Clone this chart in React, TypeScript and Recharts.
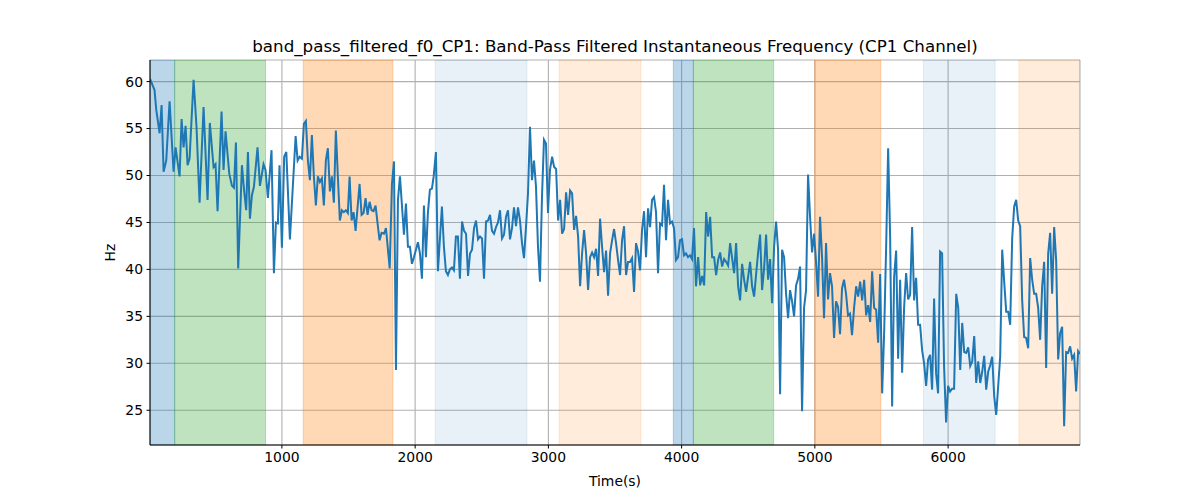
import React from 'react';
import {
  LineChart,
  Line,
  XAxis,
  YAxis,
  CartesianGrid,
  ReferenceArea,
} from 'recharts';

const timeS = [
  10, 44, 57, 82, 97, 112, 132, 157, 187, 202, 232, 247, 262, 277, 292, 307, 337, 359, 382, 412,
  442, 459, 487, 502, 517, 547, 562, 577, 605, 625, 640, 655, 672, 700, 717, 732, 745, 760, 775, 790,
  817, 835, 862, 877, 895, 922, 940, 955, 970, 982, 1000, 1017, 1033, 1060, 1103, 1118, 1133, 1150, 1165, 1180,
  1195, 1210, 1225, 1240, 1255, 1270, 1285, 1300, 1315, 1330, 1345, 1360, 1375, 1390, 1405, 1420, 1435, 1450, 1465, 1480,
  1495, 1508, 1523, 1538, 1553, 1583, 1598, 1613, 1628, 1643, 1658, 1673, 1688, 1703, 1718, 1733, 1748, 1766, 1781, 1809,
  1826, 1841, 1856, 1871, 1886, 1916, 1931, 1946, 1961, 1976, 1991, 2021, 2036, 2051, 2066, 2081, 2096, 2111, 2126, 2139,
  2156, 2171, 2201, 2216, 2231, 2246, 2261, 2276, 2291, 2306, 2321, 2336, 2352, 2367, 2382, 2397, 2412, 2427, 2442, 2457,
  2472, 2487, 2502, 2517, 2532, 2547, 2562, 2577, 2592, 2607, 2622, 2637, 2652, 2667, 2682, 2697, 2712, 2727, 2742, 2757,
  2772, 2787, 2802, 2817, 2832, 2847, 2862, 2877, 2892, 2907, 2922, 2937, 2952, 2967, 2982, 2997, 3012, 3028, 3043, 3058,
  3073, 3088, 3103, 3118, 3133, 3148, 3163, 3178, 3193, 3208, 3223, 3238, 3253, 3268, 3283, 3298, 3313, 3328, 3343, 3358,
  3373, 3388, 3403, 3418, 3433, 3448, 3463, 3478, 3493, 3508, 3523, 3538, 3553, 3568, 3583, 3598, 3613, 3628, 3643, 3658,
  3673, 3688, 3703, 3718, 3733, 3748, 3763, 3778, 3793, 3808, 3823, 3838, 3853, 3868, 3883, 3898, 3913, 3928, 3943, 3958,
  3973, 3988, 4003, 4018, 4033, 4048, 4063, 4078, 4093, 4108, 4124, 4139, 4154, 4169, 4184, 4199, 4214, 4229, 4244, 4259,
  4274, 4289, 4304, 4319, 4334, 4349, 4364, 4379, 4394, 4409, 4424, 4439, 4454, 4469, 4484, 4514, 4529, 4544, 4574, 4589,
  4604, 4619, 4634, 4649, 4664, 4679, 4694, 4709, 4724, 4739, 4754, 4769, 4784, 4799, 4814, 4829, 4844, 4859, 4874, 4889,
  4904, 4919, 4934, 4949, 4964, 4979, 4994, 5009, 5024, 5039, 5054, 5069, 5084, 5099, 5114, 5129, 5144, 5159, 5174, 5189,
  5204, 5219, 5234, 5249, 5264, 5279, 5295, 5310, 5325, 5340, 5355, 5370, 5385, 5400, 5415, 5430, 5445, 5460, 5475, 5490,
  5505, 5520, 5535, 5550, 5565, 5580, 5595, 5610, 5625, 5640, 5655, 5670, 5685, 5700, 5715, 5730, 5745, 5760, 5775, 5790,
  5805, 5820, 5835, 5850, 5865, 5880, 5895, 5910, 5925, 5940, 5955, 5970, 5985, 6000, 6015, 6030, 6045, 6061, 6076, 6091,
  6106, 6121, 6136, 6151, 6166, 6181, 6196, 6211, 6226, 6241, 6256, 6271, 6286, 6301, 6316, 6331, 6346, 6361, 6391, 6406,
  6421, 6436, 6451, 6466, 6481, 6496, 6511, 6526, 6541, 6556, 6571, 6586, 6601, 6616, 6631, 6646, 6661, 6676, 6691, 6706,
  6721, 6736, 6751, 6766, 6781, 6796, 6811, 6826, 6841, 6856, 6871, 6886, 6901, 6916, 6931, 6946, 6961, 6976, 6990,
];

const freqHz = [
  60.3, 59.1, 57.0, 54.5, 57.5, 50.4, 51.6, 57.9, 50.4, 53.0, 49.9, 56.0, 53.0, 55.3, 51.1, 51.8, 60.2, 55.2, 47.1, 57.3,
  47.4, 55.6, 50.9, 51.2, 46.2, 56.8, 50.6, 54.7, 50.2, 48.9, 48.7, 53.5, 40.1, 51.1, 48.3, 46.3, 52.5, 45.4, 47.9, 48.8,
  53.0, 48.9, 51.2, 50.6, 47.6, 52.7, 39.6, 45.0, 44.9, 51.1, 42.3, 52.0, 52.5, 43.2, 54.2, 51.6, 52.0, 51.8, 55.5, 55.8,
  51.6, 49.5, 54.3, 49.9, 46.8, 49.9, 49.3, 49.7, 46.8, 51.6, 52.9, 48.3, 49.9, 47.1, 54.8, 49.9, 45.2, 46.3, 46.1, 46.3,
  46.0, 49.9, 45.2, 46.1, 44.1, 49.1, 45.8, 46.0, 47.6, 45.8, 47.2, 46.3, 46.2, 46.8, 44.9, 43.1, 43.9, 43.8, 44.4, 40.1,
  49.1, 51.5, 29.3, 47.4, 49.9, 43.7, 47.0, 42.4, 42.4, 40.6, 41.3, 42.9, 41.7, 39.0, 46.8, 41.3, 46.1, 48.5, 48.6, 49.9,
  52.5, 39.8, 46.7, 42.4, 39.8, 39.4, 40.0, 40.2, 39.9, 43.5, 43.5, 39.0, 45.1, 44.1, 43.8, 39.3, 41.7, 42.1, 44.4, 45.2,
  43.2, 43.5, 43.3, 39.0, 45.1, 45.2, 45.8, 44.1, 43.8, 44.5, 45.0, 46.3, 43.3, 43.7, 45.6, 46.3, 43.2, 44.4, 46.6, 44.6,
  46.6, 45.2, 42.8, 41.2, 44.5, 48.1, 55.2, 49.5, 51.6, 48.8, 42.4, 38.7, 47.7, 53.8, 53.4, 46.0, 50.6, 52.0, 50.9, 50.7,
  45.2, 47.4, 43.8, 44.3, 48.2, 45.8, 48.4, 48.1, 44.2, 45.7, 43.5, 38.2, 41.7, 44.2, 41.7, 37.8, 41.3, 41.8, 41.3, 42.2,
  39.3, 45.4, 42.4, 39.7, 42.0, 37.2, 41.7, 43.1, 44.3, 42.8, 41.0, 39.4, 43.1, 44.6, 39.4, 40.8, 40.8, 41.2, 37.6, 42.8,
  41.9, 39.9, 44.2, 46.2, 41.3, 46.5, 44.5, 47.4, 47.7, 46.1, 39.6, 44.9, 44.7, 49.0, 43.1, 47.4, 44.9, 45.1, 44.4, 41.0,
  41.3, 43.1, 43.2, 41.5, 41.7, 41.3, 41.5, 41.1, 44.4, 38.2, 41.3, 38.3, 39.3, 38.3, 46.1, 43.5, 45.6, 41.3, 41.3, 39.4,
  41.0, 41.8, 40.3, 41.1, 40.8, 40.4, 42.8, 41.2, 39.6, 42.8, 38.2, 36.7, 40.6, 38.9, 37.6, 40.8, 38.2, 37.1, 41.8, 43.7,
  37.8, 40.1, 43.7, 38.9, 41.1, 36.4, 42.4, 45.1, 42.1, 26.7, 42.1, 41.3, 37.4, 34.8, 37.8, 36.6, 35.0, 38.3, 39.0, 40.3,
  24.9, 35.9, 37.8, 50.1, 45.6, 41.8, 43.8, 40.8, 37.1, 45.6, 41.3, 34.8, 42.8, 36.8, 39.6, 38.2, 32.7, 36.6, 36.0, 33.1,
  38.0, 38.9, 37.4, 35.1, 35.3, 33.0, 36.0, 38.2, 37.1, 38.7, 36.7, 38.9, 35.1, 36.2, 34.4, 39.8, 35.9, 35.7, 32.2, 39.5,
  26.8, 33.2, 42.4, 52.9, 43.5, 25.4, 39.2, 42.0, 30.5, 38.9, 29.0, 36.0, 39.6, 36.8, 37.3, 44.5, 36.7, 39.1, 34.1, 34.1,
  31.4, 30.0, 27.6, 30.4, 30.9, 27.2, 36.9, 28.9, 26.8, 41.9, 41.7, 29.6, 23.7, 27.6, 27.0, 27.3, 27.3, 37.4, 35.9, 29.3,
  34.3, 31.2, 31.1, 31.7, 29.7, 30.2, 32.9, 27.9, 30.2, 27.9, 29.1, 30.8, 27.2, 29.1, 29.8, 30.7, 26.5, 24.5, 30.7, 42.1,
  38.7, 35.5, 35.5, 34.1, 43.3, 46.7, 47.4, 45.2, 44.6, 36.7, 32.8, 32.7, 31.6, 41.2, 38.9, 37.4, 37.4, 35.9, 32.5, 38.2,
  40.8, 29.5, 41.7, 43.9, 37.4, 44.5, 41.0, 30.4, 33.2, 33.9, 23.3, 31.2, 31.1, 31.8, 30.5, 30.9, 27.0, 31.3, 31.0,
];

// shaded phases
const bandStart = [10, 195, 1160, 2151, 3080, 3938, 4088, 4999, 5815, 6531];
const bandEnd = [195, 877, 1833, 2839, 3695, 4088, 4691, 5495, 6353, 6990];
const bandColor = ['#1f77b4', '#2ca02c', '#ff7f0e', '#1f77b4', '#ff7f0e', '#1f77b4', '#2ca02c', '#ff7f0e', '#1f77b4', '#ff7f0e'];
const bandAlpha = [0.3, 0.3, 0.3, 0.1, 0.15, 0.3, 0.3, 0.3, 0.1, 0.15];

const xTicks = [1000, 2000, 3000, 4000, 5000, 6000];
const yTicks = [25, 30, 35, 40, 45, 50, 55, 60];

const data = timeS.map((t, i) => ({ t, hz: freqHz[i] }));

const font = 'DejaVu Sans, sans-serif';
const tickStyle = { fontFamily: font, fontSize: 13.9, fill: '#000' };

export default function App() {
  return (
    <div style={{ position: 'relative', width: 1200, height: 500, background: '#fff' }}>
      <style>{`body{margin:0}`}</style>
      <LineChart width={1200} height={500} data={data} margin={{ top: 60, right: 120, bottom: 25, left: 0 }}>
        <CartesianGrid stroke="#b0b0b0" strokeWidth={1.1} />
        {bandStart.map((s, i) => (
          <ReferenceArea
            key={i}
            x1={s}
            x2={bandEnd[i]}
            fill={bandColor[i]}
            fillOpacity={bandAlpha[i]}
            stroke={bandColor[i]}
            strokeOpacity={bandAlpha[i]}
            ifOverflow="hidden"
          />
        ))}
        <XAxis
          type="number"
          dataKey="t"
          domain={[10, 6990]}
          ticks={xTicks}
          allowDataOverflow
          height={30}
          tickSize={3.5}
          tickMargin={3.5}
          tick={tickStyle}
          stroke="#000"
        />
        <XAxis
          xAxisId="top"
          orientation="top"
          type="number"
          dataKey="t"
          domain={[10, 6990]}
          allowDataOverflow
          height={0}
          tick={false}
          tickLine={false}
          stroke="#000"
        />
        <YAxis
          type="number"
          domain={[21.3, 62.3]}
          ticks={yTicks}
          allowDataOverflow
          width={150}
          tickSize={3.5}
          tickMargin={3.5}
          tick={tickStyle}
          stroke="#000"
        />
        <YAxis
          yAxisId="right"
          orientation="right"
          type="number"
          domain={[21.3, 62.3]}
          allowDataOverflow
          width={0}
          tick={false}
          tickLine={false}
          stroke="#000"
        />
        <Line
          type="linear"
          dataKey="hz"
          stroke="#1f77b4"
          strokeWidth={2}
          dot={false}
          isAnimationActive={false}
        />
      </LineChart>
      <svg
        width={1200}
        height={500}
        style={{ position: 'absolute', left: 0, top: 0, pointerEvents: 'none' }}
      >
        <text x={615} y={52} textAnchor="middle" fontFamily={font} fontSize={16.7} fill="#000">
          band_pass_filtered_f0_CP1: Band-Pass Filtered Instantaneous Frequency (CP1 Channel)
        </text>
        <text x={615} y={486} textAnchor="middle" fontFamily={font} fontSize={13.9} fill="#000">
          Time(s)
        </text>
        <text
          x={115}
          y={252.5}
          textAnchor="middle"
          fontFamily={font}
          fontSize={13.9}
          fill="#000"
          transform="rotate(-90 115 252.5)"
        >
          Hz
        </text>
      </svg>
    </div>
  );
}
